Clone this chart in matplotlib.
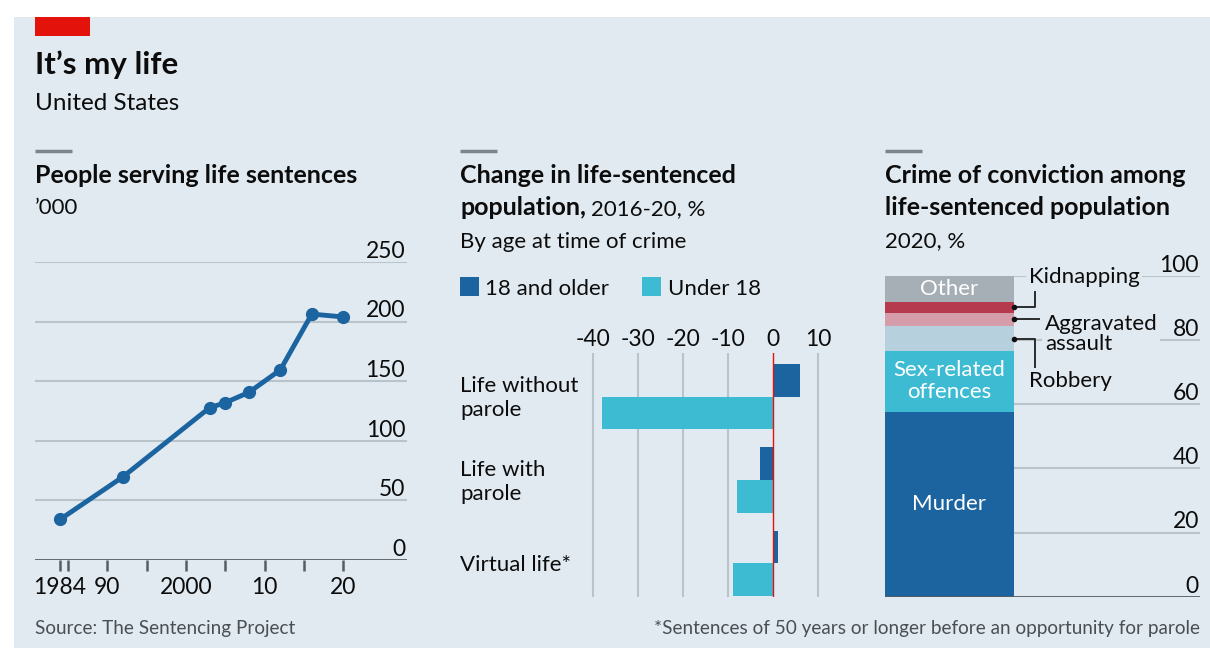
import matplotlib
matplotlib.use("Agg")
import matplotlib.pyplot as plt
from matplotlib.patches import Rectangle
from matplotlib.transforms import blended_transform_factory as blend
from matplotlib.lines import Line2D

# ---------------- data ----------------
years = [1984, 1992, 2003, 2005, 2008, 2012, 2016, 2020]
lifers_k = [34.0, 69.8, 127.7, 132.0, 140.6, 159.5, 206.3, 203.9]
line_yticks = [0, 50, 100, 150, 200, 250]
line_xticks = [1984, 1985, 1990, 1995, 2000, 2005, 2010, 2015, 2020]
line_xlabels = {1984: "1984", 1990: "90", 2000: "2000", 2010: "10", 2020: "20"}

sentence_types = ["Life without\nparole", "Life with\nparole", "Virtual life*"]
change_adult = [6.0, -3.0, 1.0]
change_juvenile = [-38.0, -8.0, -9.0]
change_ticks = [-40, -30, -20, -10, 0, 10]
change_ticklabels = ["-40", "-30", "-20", "-10", "0", "10"]

crimes = ["Murder", "Sex-related\noffences", "Robbery", "Aggravated\nassault", "Kidnapping", "Other"]
crime_share = [57.5, 19.0, 8.0, 4.0, 3.5, 8.0]
crime_ticks = [0, 20, 40, 60, 80, 100]

# ---------------- style ----------------
W, H = 1210, 648
BG = "#e1eaf1"
DARK = "#1b64a0"
LIGHT = "#3dbbd3"
GRID = "#b9c3ca"
AXIS = "#555d63"
crime_colors = [DARK, LIGHT, "#b7d0dd", "#d59da9", "#b63a4d", "#a6afb6"]
FONT = "Lato"
plt.rcParams["font.family"] = [FONT, "DejaVu Sans"]

fig = plt.figure(figsize=(W / 100, H / 100), dpi=100, facecolor="white")


def fx(x):
    return x / W


def fy(y):
    return 1 - y / H


def axes_px(l, t, r, b):
    return fig.add_axes([fx(l), fy(b), (r - l) / W, (b - t) / H])


def ftext(x, y, s, **kw):
    kw.setdefault("va", "baseline")
    kw.setdefault("color", "#0c0c0c")
    return fig.text(fx(x), fy(y), s, **kw)


# panel background
fig.add_artist(Rectangle((fx(14), 0), 1 - fx(14), fy(17), transform=fig.transFigure,
                         facecolor=BG, edgecolor="none", zorder=-10))
# red tag
fig.add_artist(Rectangle((fx(35), fy(35.5)), fx(90) - fx(35), fy(17.5) - fy(35.5),
                         transform=fig.transFigure, facecolor="#e3120b", edgecolor="none"))
ftext(35, 74, "It\u2019s my life", fontsize=22.5, fontweight="bold")
ftext(35, 109.5, "United States", fontsize=17.5)

# grey header bars
for x0 in (35, 460, 885):
    fig.add_artist(Line2D([fx(x0), fx(x0 + 37)], [fy(151), fy(151)], transform=fig.transFigure,
                          color="#7d858b", lw=2.5, solid_capstyle="butt"))

HS = 18    # header size
RS = 16    # regular size
TS = 16.5  # tick size
ftext(35, 183, "People serving life sentences", fontsize=HS, fontweight="bold")
ftext(35, 214, "\u2019000", fontsize=RS)

ftext(460, 183, "Change in life-sentenced", fontsize=HS, fontweight="bold")
t = ftext(460, 215, "population,", fontsize=HS, fontweight="bold")
fig.canvas.draw()
bb = t.get_window_extent()
ftext(bb.x1 + 5, 215, "2016-20, %", fontsize=RS)
ftext(460, 248, "By age at time of crime", fontsize=RS)

ftext(885, 183, "Crime of conviction among", fontsize=HS, fontweight="bold")
ftext(885, 215, "life-sentenced population", fontsize=HS, fontweight="bold")
ftext(885, 247, "2020, %", fontsize=RS)

ftext(35, 634, "Source: The Sentencing Project", fontsize=13.6, color="#4a4f53")
ftext(1200, 634, "*Sentences of 50 years or longer before an opportunity for parole",
      fontsize=13.6, color="#4a4f53", ha="right")

# ---------------- chart 1: line ----------------
ax1 = axes_px(35, 262, 407, 560)
ax1.set_facecolor("none")
ax1.set_xlim(1980.82, 2028.1)
ax1.set_ylim(0, 250)
for s in ax1.spines.values():
    s.set_visible(False)
for v in line_yticks[1:]:
    ax1.axhline(v, color=GRID, lw=1.5, zorder=1)
ax1.axhline(0, color=AXIS, lw=2, zorder=2)
ytr = blend(ax1.transAxes, ax1.transData)
for v in line_yticks:
    ax1.annotate(str(v), xy=(0.995, v), xycoords=ytr, xytext=(0, 3), textcoords="offset points",
                 ha="right", va="baseline", fontsize=TS, color="#0c0c0c")
ax1.set_yticks([])
ax1.set_xticks(line_xticks)
ax1.set_xticklabels([line_xlabels.get(y, "") for y in line_xticks], fontsize=TS)
ax1.tick_params(axis="x", length=8, width=1.8, color=AXIS, pad=4, labelcolor="#0c0c0c")
ax1.plot(years, lifers_k, color=DARK, lw=3.5, marker="o", ms=8.5, zorder=5, clip_on=False)

# ---------------- chart 2: bars ----------------
ax2 = axes_px(583.7, 353, 827.3, 597)
ax2.set_facecolor("none")
ax2.set_xlim(-42, 12)
ax2.set_ylim(2.404, -0.524)
for s in ax2.spines.values():
    s.set_visible(False)
idx = list(range(len(sentence_types)))
bh = 0.392
ax2.barh([i - bh / 2 for i in idx], change_adult, height=bh, color=DARK, zorder=3)
ax2.barh([i + bh / 2 for i in idx], change_juvenile, height=bh, color=LIGHT, zorder=3)
for v in change_ticks:
    if v != 0:
        ax2.axvline(v, color=GRID, lw=1.5, zorder=1)
ax2.axvline(0, color="#e3120b", lw=1, zorder=4)
ax2.xaxis.set_ticks_position("top")
ax2.set_xticks(change_ticks)
ax2.set_xticklabels(change_ticklabels, fontsize=TS)
ax2.tick_params(axis="x", length=0, pad=2, labelcolor="#0c0c0c")
ax2.set_yticks([])
ltr = blend(fig.transFigure, ax2.transData)
for i, lab in zip(idx, sentence_types):
    ax2.text(fx(460), i + 0.02, lab, transform=ltr, ha="left", va="center",
             fontsize=RS, color="#0c0c0c", linespacing=1.25)
# legend
fig.add_artist(Rectangle((fx(460), fy(295.5)), fx(479) - fx(460), fy(277) - fy(295.5),
                         transform=fig.transFigure, facecolor=DARK, edgecolor="none"))
ftext(485, 295, "18 and older", fontsize=RS)
fig.add_artist(Rectangle((fx(641.5), fy(295.5)), fx(660.5) - fx(641.5), fy(277) - fy(295.5),
                         transform=fig.transFigure, facecolor=LIGHT, edgecolor="none"))
ftext(668, 295, "Under 18", fontsize=RS)

# ---------------- chart 3: stacked bar ----------------
ax3 = axes_px(885, 276, 1200, 596.7)
ax3.set_facecolor("none")
ax3.set_xlim(0, 315)
ax3.set_ylim(0, 100)
for s in ax3.spines.values():
    s.set_visible(False)
ax3.set_xticks([])
ax3.set_yticks([])
BW = 129
bottoms = []
acc = 0
for val, col in zip(crime_share, crime_colors):
    ax3.bar(0, val, width=BW, bottom=acc, align="edge", color=col, zorder=3)
    bottoms.append(acc)
    acc += val
for v in crime_ticks[1:]:
    ax3.plot([BW, 315], [v, v], color=GRID, lw=1.5, zorder=1)
ax3.plot([0, 315], [0, 0], color=AXIS, lw=2, zorder=4)
for v in crime_ticks:
    ax3.annotate(str(v), xy=(314, v), xytext=(0, 3), textcoords="offset points",
                 ha="right", va="baseline", fontsize=TS, color="#0c0c0c")
# inside labels
mid = [b + v / 2 for b, v in zip(bottoms, crime_share)]
for k in (0, 1, 5):
    ax3.text(BW / 2, mid[k] + (0.3 if k == 1 else 0), crimes[k], ha="center", va="center",
             color="white", fontsize=RS, zorder=5, linespacing=1.1)
# outside labels with connectors
lab_kw = dict(fontsize=RS, color="#0c0c0c", zorder=5, va="center", ha="left",
              bbox=dict(facecolor=BG, edgecolor="none", pad=2))
ax3.plot([BW, 150, 150], [mid[4], mid[4], 95.0], color="#2b2b2b", lw=1.4, zorder=5)
ax3.plot([BW], [mid[4]], "o", color="#111", ms=3, zorder=6)
ax3.text(144, 99.6, crimes[4], **lab_kw)
ax3.plot([BW, 154], [mid[3], mid[3]], color="#2b2b2b", lw=1.4, zorder=5)
ax3.plot([BW], [mid[3]], "o", color="#111", ms=3, zorder=6)
ax3.text(160, 82.0, crimes[3], linespacing=1.0, **lab_kw)
ax3.plot([BW, 150, 150], [mid[2], mid[2], 71.5], color="#2b2b2b", lw=1.4, zorder=5)
ax3.plot([BW], [mid[2]], "o", color="#111", ms=3, zorder=6)
ax3.text(144, 67.3, crimes[2], **lab_kw)

fig.savefig("out.png", dpi=100, facecolor="white")
